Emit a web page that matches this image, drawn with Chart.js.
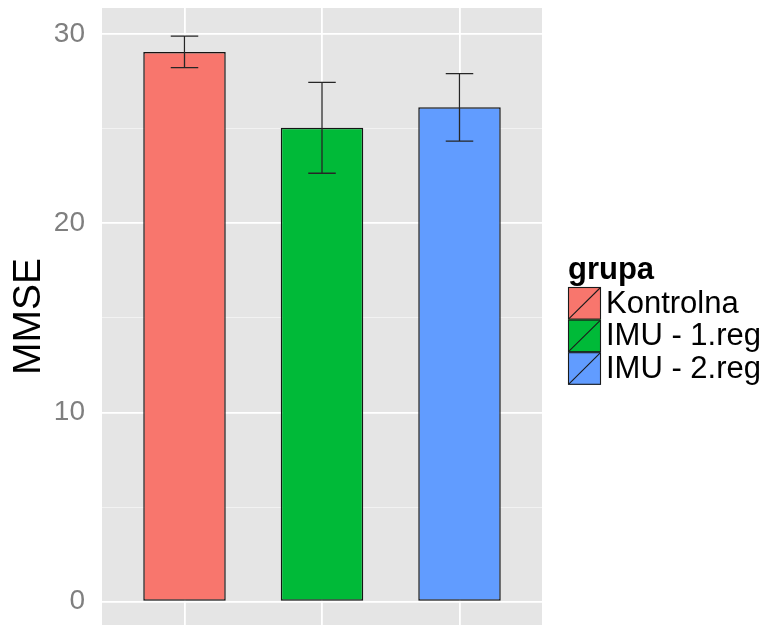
<!DOCTYPE html>
<html>
<head>
<meta charset="utf-8">
<script src="https://cdn.jsdelivr.net/npm/chart.js@4/dist/chart.umd.min.js"></script>
<style>
  html, body { margin: 0; padding: 0; background: #ffffff; overflow: hidden; }
  #wrap { width: 768px; height: 625px; position: relative; }
</style>
</head>
<body>
<div id="wrap"><canvas id="c" width="768" height="625"></canvas></div>
<script>
// MMSE score by group: mean and half-width of the error bar
const groups = ['Kontrolna', 'IMU - 1.reg', 'IMU - 2.reg'];
const mmseMean = [29.05, 25.04, 26.12];
const mmseErr = [0.83, 2.40, 1.78];
const groupColors = ['#F8766D', '#00BA38', '#619CFF'];
const yTicks = [0, 5, 10, 15, 20, 25, 30];
const legendTitle = 'grupa';
const yTitle = 'MMSE';

const FONT = '"Liberation Sans", Arial, Helvetica, sans-serif';

// grey panel behind the plotting area
const panelBackground = {
  id: 'panelBackground',
  beforeDraw(chart) {
    const { ctx, chartArea: a } = chart;
    ctx.save();
    ctx.fillStyle = '#E5E5E5';
    ctx.fillRect(a.left, a.top, a.right - a.left, a.bottom - a.top);
    ctx.restore();
  }
};

// error bars with short whiskers (whisker width 0.2 x-units)
const errorBars = {
  id: 'errorBars',
  afterDatasetsDraw(chart) {
    const { ctx, scales: { x, y } } = chart;
    ctx.save();
    ctx.strokeStyle = '#262626';
    ctx.lineWidth = 1.3;
    mmseMean.forEach((m, i) => {
      const cx = x.getPixelForValue(i + 1);
      const x0 = x.getPixelForValue(i + 1 - 0.1);
      const x1 = x.getPixelForValue(i + 1 + 0.1);
      const yt = y.getPixelForValue(m + mmseErr[i]);
      const yb = y.getPixelForValue(m - mmseErr[i]);
      ctx.beginPath();
      ctx.moveTo(cx, yt); ctx.lineTo(cx, yb);
      ctx.moveTo(x0, yt); ctx.lineTo(x1, yt);
      ctx.moveTo(x0, yb); ctx.lineTo(x1, yb);
      ctx.stroke();
    });
    ctx.restore();
  }
};

// legend at the right: bold title, filled keys with a diagonal stroke
const groupLegend = {
  id: 'groupLegend',
  afterDraw(chart) {
    const ctx = chart.ctx;
    const left = 568, keyW = 33, keyH = 32.6, top = 287;
    ctx.save();
    ctx.fillStyle = '#000000';
    ctx.font = 'bold 31px ' + FONT;
    ctx.textBaseline = 'alphabetic';
    ctx.textAlign = 'left';
    ctx.fillText(legendTitle, left, 279);
    ctx.font = '31px ' + FONT;
    ctx.textBaseline = 'middle';
    groups.forEach((g, i) => {
      const ky = top + i * keyH;
      ctx.fillStyle = groupColors[i];
      ctx.fillRect(left, ky, keyW, keyH);
      ctx.strokeStyle = '#1a1a1a';
      ctx.lineWidth = 1.1;
      ctx.strokeRect(left + 0.5, ky + 0.5, keyW - 1, keyH - 1);
      ctx.beginPath();
      ctx.moveTo(left + 1, ky + keyH - 1);
      ctx.lineTo(left + keyW - 1, ky + 1);
      ctx.stroke();
      ctx.fillStyle = '#000000';
      ctx.fillText(g, left + keyW + 5, ky + keyH / 2 + 1);
    });
    ctx.restore();
  }
};

new Chart(document.getElementById('c'), {
  type: 'bar',
  data: {
    datasets: [{
      label: 'MMSE',
      data: mmseMean.map((v, i) => ({ x: i + 1, y: v })),
      backgroundColor: groupColors,
      borderColor: '#141414',
      borderWidth: 1.5,
      borderSkipped: false,
      barPercentage: 0.6,
      categoryPercentage: 1.0
    }]
  },
  options: {
    responsive: false,
    animation: false,
    events: [],
    layout: { padding: { top: 8, right: 226, bottom: 0, left: 0 } },
    plugins: {
      legend: { display: false },
      tooltip: { enabled: false }
    },
    scales: {
      x: {
        type: 'linear',
        min: 0.4,
        max: 3.6,
        offset: false,
        afterBuildTicks(scale) { scale.ticks = groups.map((g, i) => ({ value: i + 1 })); },
        afterFit(scale) {
          scale.height = 0;
          scale.paddingLeft = 0; scale.paddingRight = 0;
          scale.paddingTop = 0; scale.paddingBottom = 0;
        },
        ticks: { display: false },
        grid: { offset: false, color: '#FFFFFF', lineWidth: 1.8, drawTicks: false },
        border: { display: false }
      },
      y: {
        type: 'linear',
        min: -1.23,
        max: 31.37,
        afterBuildTicks(scale) { scale.ticks = yTicks.map(v => ({ value: v })); },
        afterFit(scale) {
          scale.width = 102;
          scale.paddingTop = 0; scale.paddingBottom = 0;
        },
        ticks: {
          padding: 17,
          color: '#7F7F7F',
          font: { family: FONT, size: 28 },
          callback: (v) => (v % 10 === 0 ? String(v) : '')
        },
        grid: {
          drawTicks: false,
          color: (c) => (c.tick && c.tick.value % 10 === 0 ? '#FFFFFF' : '#F2F2F2'),
          lineWidth: (c) => (c.tick && c.tick.value % 10 === 0 ? 1.8 : 1.0)
        },
        border: { display: false },
        title: {
          display: true,
          text: yTitle,
          color: '#000000',
          font: { family: FONT, size: 39 },
          padding: { top: 6, bottom: 0 }
        }
      }
    }
  },
  plugins: [panelBackground, errorBars, groupLegend]
});
</script>
</body>
</html>
